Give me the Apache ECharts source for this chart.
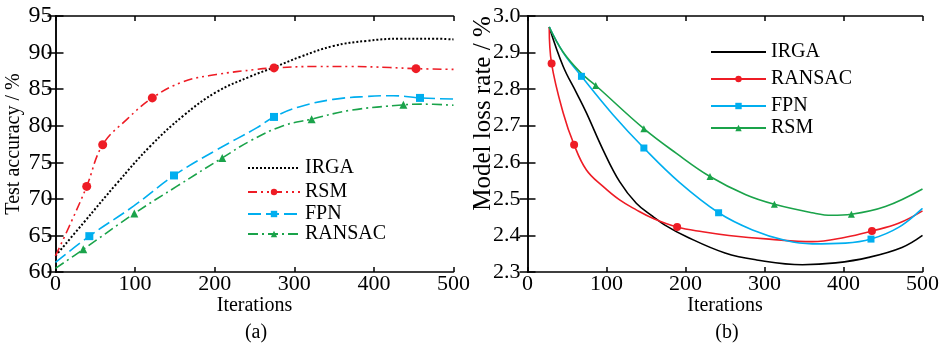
<!DOCTYPE html>
<html>
<head>
<meta charset="utf-8">
<script src="https://cdn.jsdelivr.net/npm/echarts@6/dist/echarts.min.js"></script>
<style>html,body{margin:0;padding:0;background:#fff}#c{width:942px;height:343px}</style>
</head>
<body>
<div id="c"></div>
<script>
// ---------- Panel (a): Test accuracy ----------
const accXTicks = [0, 100, 200, 300, 400, 500];
const accYTicks = [60, 65, 70, 75, 80, 85, 90, 95];
// curve points and marker points
const accIRGA = [[0,62.2],[35,66.7],[77,72.1],[119,77.2],[161,81.4],[202,84.6],[244,86.7],[275,88.0],[307,89.4],[349,90.9],[391,91.6],[433,91.9],[475,91.9],[500,91.8]];
const accRSM = [[0,62.2],[20,66.9],[90,80.9],[160,86.0],[202,87.0],[253,87.7],[328,88.1],[370,88.1],[420,87.95],[500,87.7]];
const accRSMMarks = [[39.2,71.7],[59.3,77.4],[121.6,83.8],[274.5,87.9],[452.9,87.8]];
const accFPN = [[0,61.3],[98,69.0],[202.5,76.7],[252.7,79.7],[307,82.6],[349,83.6],[391,84.0],[424,84.1],[500,83.65]];
const accFPNMarks = [[42.5,64.9],[148.9,73.2],[274.5,81.2],[457.9,83.8]];
const accRANSAC = [[0,60.5],[152.2,71.7],[244.3,77.9],[286,80.0],[370,82.1],[462,82.95],[500,82.8]];
const accRANSACMarks = [[34.9,63.1],[99,68.0],[209.5,75.6],[321.8,80.9],[437,82.85]];

// ---------- Panel (b): Model loss rate ----------
const lossXTicks = [0, 100, 200, 300, 400, 500];
const lossYTicks = [2.3, 2.4, 2.5, 2.6, 2.7, 2.8, 2.9, 3.0];
const lossIRGA = [[27.5,2.97],[45.2,2.862],[62,2.79],[74.6,2.735],[95.6,2.634],[116.6,2.547],[137.7,2.488],[158.6,2.452],[173.4,2.429],[200.8,2.397],[250,2.352],[290,2.333],[348,2.320],[390,2.325],[432,2.34],[474,2.367],[500,2.40]];
const lossRANSAC = [[27.5,2.97],[45.2,2.735],[74.6,2.579],[95.6,2.534],[116.6,2.497],[137.7,2.47],[158.6,2.447],[221.7,2.41],[255,2.40],[305.8,2.39],[360.4,2.383],[402.5,2.395],[469.7,2.433],[500,2.467]];
const lossRANSACMarks = [[30.5,2.87],[59,2.648],[189.4,2.423],[436,2.412]];
const lossFPN = [[27.5,2.97],[45.2,2.9],[108.2,2.73],[192.3,2.545],[284.8,2.415],[326.9,2.386],[360.4,2.377],[402.5,2.379],[469.7,2.422],[500,2.474]];
const lossFPNMarks = [[68.3,2.835],[147.3,2.639],[241.9,2.462],[434.8,2.39]];
const lossRSM = [[27.5,2.97],[45.2,2.901],[68.3,2.843],[188.1,2.625],[276.4,2.511],[360.4,2.462],[385,2.455],[453,2.479],[500,2.527]];
const lossRSMMarks = [[86.4,2.81],[147.3,2.692],[231,2.561],[312.5,2.485],[410,2.458]];

const legendA = ['IRGA', 'RSM', 'FPN', 'RANSAC'];
const legendB = ['IRGA', 'RANSAC', 'FPN', 'RSM'];

const RED = '#ee1c25', BLUE = '#00aeef', GREEN = '#1aa34a', BLACK = '#000';
const FONT = "'Liberation Serif', 'Times New Roman', 'DejaVu Serif', serif";

function build(line, marks) {
  const pts = line.map(p => ({ value: p, symbol: 'none' }))
    .concat((marks || []).map(p => ({ value: p })));
  pts.sort((a, b) => a.value[0] - b.value[0]);
  return pts;
}

function axesFor(grid, xt, yt, yFmt, yMargin, yLabelSize, yName, yNameSize, yNamePad) {
  const tickX = { show: true, inside: true, length: 5, lineStyle: { color: BLACK, width: 1.5 } };
  const tickY = { show: true, inside: true, length: 8, lineStyle: { color: BLACK, width: 1.5 } };
  const line = { show: true, lineStyle: { color: BLACK, width: 1.5 } };
  const xmin = xt[0], xmax = xt[xt.length - 1], xi = xt[1] - xt[0];
  const ymin = yt[0], ymax = yt[yt.length - 1], yi = +(yt[1] - yt[0]).toFixed(6);
  return {
    x: [
      { type: 'value', gridIndex: grid, min: xmin, max: xmax, interval: xi, position: 'bottom',
        axisLine: line, axisTick: tickX, splitLine: { show: false },
        axisLabel: { margin: 1, color: BLACK, fontFamily: FONT, fontSize: 22 },
        name: 'Iterations', nameLocation: 'middle', nameGap: 24, nameMoveOverlap: false,
        nameTextStyle: { color: BLACK, fontFamily: FONT, fontSize: 20 } },
      { type: 'value', gridIndex: grid, min: xmin, max: xmax, interval: xi, position: 'top',
        axisLine: line, axisTick: tickX, splitLine: { show: false }, axisLabel: { show: false } }
    ],
    y: [
      { type: 'value', gridIndex: grid, min: ymin, max: ymax, interval: yi, position: 'left',
        axisLine: line, axisTick: tickY, splitLine: { show: false },
        axisLabel: { margin: yMargin, color: BLACK, fontFamily: FONT, fontSize: yLabelSize, formatter: yFmt },
        name: yName, nameLocation: 'middle', nameGap: 32, nameMoveOverlap: false,
        nameTextStyle: { color: BLACK, fontFamily: FONT, fontSize: yNameSize, padding: yNamePad } },
      { type: 'value', gridIndex: grid, min: ymin, max: ymax, interval: yi, position: 'right',
        axisLine: line, axisTick: tickY, splitLine: { show: false }, axisLabel: { show: false } }
    ]
  };
}

const A = axesFor(0, accXTicks, accYTicks, v => String(v), 3, 24, 'Test accuracy / %', 20, [0,0,0,0]);
const B = axesFor(1, lossXTicks, lossYTicks, v => v.toFixed(1), 7, 22, 'Model loss rate / %', 25, [0,0,0,61]);

function ser(name, data, xi, yi, color, type, symbol, size, width) {
  return {
    name: name, type: 'line', xAxisIndex: xi, yAxisIndex: yi, data: data,
    smooth: 0.4, symbol: symbol, symbolSize: size, showSymbol: true,
    lineStyle: { color: color, width: width || 1.6, type: type },
    itemStyle: { color: color, borderWidth: 0 }, animation: false, z: 3
  };
}

const series = [
  ser('IRGA', build(accIRGA), 0, 0, BLACK, [2, 2], 'none', 0, 2),
  ser('RSM', build(accRSM, accRSMMarks), 0, 0, RED, [9, 4, 2, 4, 2, 4], 'circle', 9),
  ser('FPN', build(accFPN, accFPNMarks), 0, 0, BLUE, [13, 5], 'rect', 8),
  ser('RANSAC', build(accRANSAC, accRANSACMarks), 0, 0, GREEN, [10, 4, 2, 4], 'triangle', 8),
  ser('IRGA_b', build(lossIRGA), 2, 2, BLACK, 'solid', 'none', 0),
  ser('RANSAC_b', build(lossRANSAC, lossRANSACMarks), 2, 2, RED, 'solid', 'circle', 8),
  ser('FPN_b', build(lossFPN, lossFPNMarks), 2, 2, BLUE, 'solid', 'rect', 7),
  ser('RSM_b', build(lossRSM, lossRSMMarks), 2, 2, GREEN, 'solid', 'triangle', 7)
];

function legItem(n) {
  return n.indexOf('IRGA') === 0 ? { name: n, itemStyle: { opacity: 0 } } : { name: n };
}
const legA_y = [168, 192, 214, 234];
const legB_y = [52, 79, 106, 128];
const legends = [];
legendA.forEach((n, i) => legends.push({
  data: [legItem(n)], left: 247, top: legA_y[i] - 10, itemWidth: 52, itemHeight: 8, padding: 0,
  textStyle: { color: BLACK, fontFamily: FONT, fontSize: 20 }, selectedMode: false
}));
legendB.forEach((n, i) => legends.push({
  data: [legItem(n + '_b')], left: 710, top: legB_y[i] - 10, itemWidth: 55, itemHeight: 8, padding: 0,
  formatter: s => s.replace('_b', ''),
  textStyle: { color: BLACK, fontFamily: FONT, fontSize: 20 }, selectedMode: false
}));

const chart = echarts.init(document.getElementById('c'), null, { renderer: 'canvas' });
chart.setOption({
  animation: false,
  backgroundColor: '#fff',
  grid: [
    { left: 55.5, top: 16, width: 398, height: 256 },
    { left: 527.5, top: 16, width: 396.5, height: 256 }
  ],
  xAxis: A.x.concat(B.x),
  yAxis: A.y.concat(B.y),
  legend: legends,
  title: [
    { text: '(a)', left: 256, top: 323, textAlign: 'center', padding: 0,
      textStyle: { color: BLACK, fontFamily: FONT, fontSize: 20, fontWeight: 'normal' } },
    { text: '(b)', left: 727, top: 323, textAlign: 'center', padding: 0,
      textStyle: { color: BLACK, fontFamily: FONT, fontSize: 20, fontWeight: 'normal' } }
  ],
  series: series
});
</script>
</body>
</html>
